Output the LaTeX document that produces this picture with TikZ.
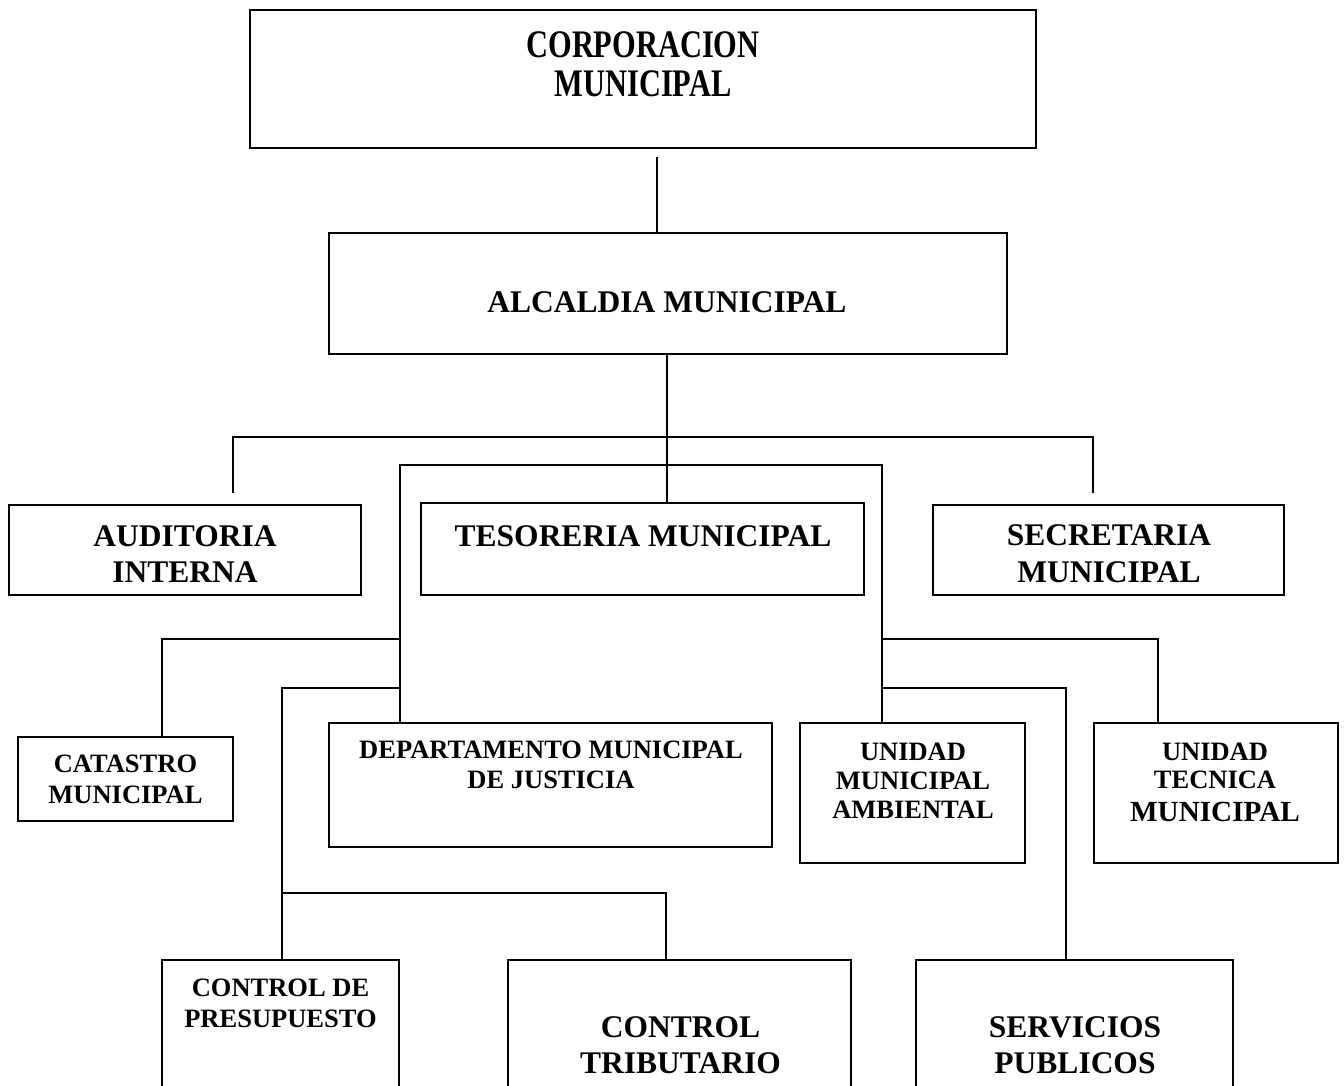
\documentclass[tikz,border=0pt]{standalone}
\usepackage{fontspec}
\setmainfont{Liberation Serif}
\usepackage{graphicx}
\begin{document}
\begin{tikzpicture}[x=1pt,y=-1pt,
  box/.style={draw, rectangle, line width=2pt, inner sep=0pt},
  conn/.style={line width=1.6pt},
  txt/.style={align=center, inner sep=0pt, anchor=base}]
\useasboundingbox (0,0) rectangle (1344,1085);
\fill[white] (0,0) rectangle (1344,1085);
\clip (0,0) rectangle (1344,1085);
% boxes
\node[box, minimum width=786pt, minimum height=138pt] (corp) at (643,79) {};
\node[box, minimum width=678pt, minimum height=121pt] (alc) at (668,293.5) {};
\node[box, minimum width=352pt, minimum height=90pt] (aud) at (185,550) {};
\node[box, minimum width=443pt, minimum height=92pt] (tes) at (642.5,549) {};
\node[box, minimum width=351pt, minimum height=90pt] (sec) at (1108.5,550) {};
\node[box, minimum width=215pt, minimum height=84pt] (cat) at (125.5,779) {};
\node[box, minimum width=443pt, minimum height=124pt] (dep) at (550.5,785) {};
\node[box, minimum width=225pt, minimum height=140pt] (uma) at (912.5,793) {};
\node[box, minimum width=244pt, minimum height=140pt] (utm) at (1216,793) {};
\node[box, minimum width=237pt, minimum height=150pt] (cdp) at (280.5,1035) {};
\node[box, minimum width=343pt, minimum height=150pt] (ctr) at (679.5,1035) {};
\node[box, minimum width=317pt, minimum height=150pt] (ser) at (1074.5,1035) {};
% texts (anchor = baseline of the last line)
\node[txt, font=\bfseries\fontsize{39}{39}\selectfont] (corp-t) at (643,96)
  {\scalebox{0.78}[1]{CORPORACION}\\\scalebox{0.78}[1]{MUNICIPAL}};
\node[txt, font=\bfseries\fontsize{31.5}{36}\selectfont] (alc-t) at (667,312) {ALCALDIA MUNICIPAL};
\node[txt, font=\bfseries\fontsize{31.5}{36}\selectfont] (aud-t) at (185,582) {AUDITORIA\\INTERNA};
\node[txt, font=\bfseries\fontsize{31.5}{36}\selectfont] (tes-t) at (643,546) {TESORERIA MUNICIPAL};
\node[txt, font=\bfseries\fontsize{31.5}{37}\selectfont] (sec-t) at (1109,582) {SECRETARIA\\MUNICIPAL};
\node[txt, font=\bfseries\fontsize{26.5}{31}\selectfont] (cat-t) at (125.5,803) {CATASTRO\\MUNICIPAL};
\node[txt, font=\bfseries\fontsize{26.5}{30}\selectfont] (dep-t) at (551,788) {DEPARTAMENTO MUNICIPAL\\DE JUSTICIA};
\node[txt, font=\bfseries\fontsize{26.5}{29}\selectfont] (uma-t) at (913,818) {UNIDAD\\MUNICIPAL\\AMBIENTAL};
\node[txt, font=\bfseries\fontsize{26.5}{28}\selectfont] (utm-t1) at (1215,788) {UNIDAD\\TECNICA};
\node[txt, font=\bfseries\fontsize{29.2}{33}\selectfont] (utm-t2) at (1215,821) {MUNICIPAL};
\node[txt, font=\bfseries\fontsize{26.5}{30.5}\selectfont] (cdp-t) at (280.5,1027) {CONTROL DE\\PRESUPUESTO};
\node[txt, font=\bfseries\fontsize{31.5}{36}\selectfont] (ctr-t) at (680.5,1073) {CONTROL\\TRIBUTARIO};
\node[txt, font=\bfseries\fontsize{31.5}{36}\selectfont] (ser-t) at (1075,1073) {SERVICIOS\\PUBLICOS};
% connectors
\coordinate (j1) at (657,157);
\draw[conn] (j1) -- (j1 |- alc.north);
\coordinate (j2) at (667,437);
\draw[conn] (alc.south -| j2) -- (j2) -- (j2 |- tes.north);
\coordinate (ja) at (233,437);
\coordinate (jb) at (1093,437);
\coordinate (aud-end) at (233,493);
\coordinate (sec-end) at (1093,493);
\draw[conn] (aud-end) -- (ja) -- (jb) -- (sec-end);
\coordinate (l1) at (400,465);
\coordinate (r1) at (882,465);
\draw[conn] (dep.north -| l1) -- (l1) -- (r1) -- (r1 |- uma.north);
\coordinate (l2) at (400,639);
\coordinate (c1) at (162,639);
\draw[conn] (l2) -- (c1) -- (c1 |- cat.north);
\coordinate (l3) at (400,688);
\coordinate (c2) at (282,688);
\draw[conn] (l3) -- (c2) -- (c2 |- cdp.north);
\coordinate (c3) at (282,893);
\coordinate (c4) at (666,893);
\draw[conn] (c3) -- (c4) -- (c4 |- ctr.north);
\coordinate (r2) at (882,639);
\coordinate (c5) at (1158,639);
\draw[conn] (r2) -- (c5) -- (c5 |- utm.north);
\coordinate (r3) at (882,688);
\coordinate (c6) at (1066,688);
\draw[conn] (r3) -- (c6) -- (c6 |- ser.north);
\end{tikzpicture}
\end{document}
